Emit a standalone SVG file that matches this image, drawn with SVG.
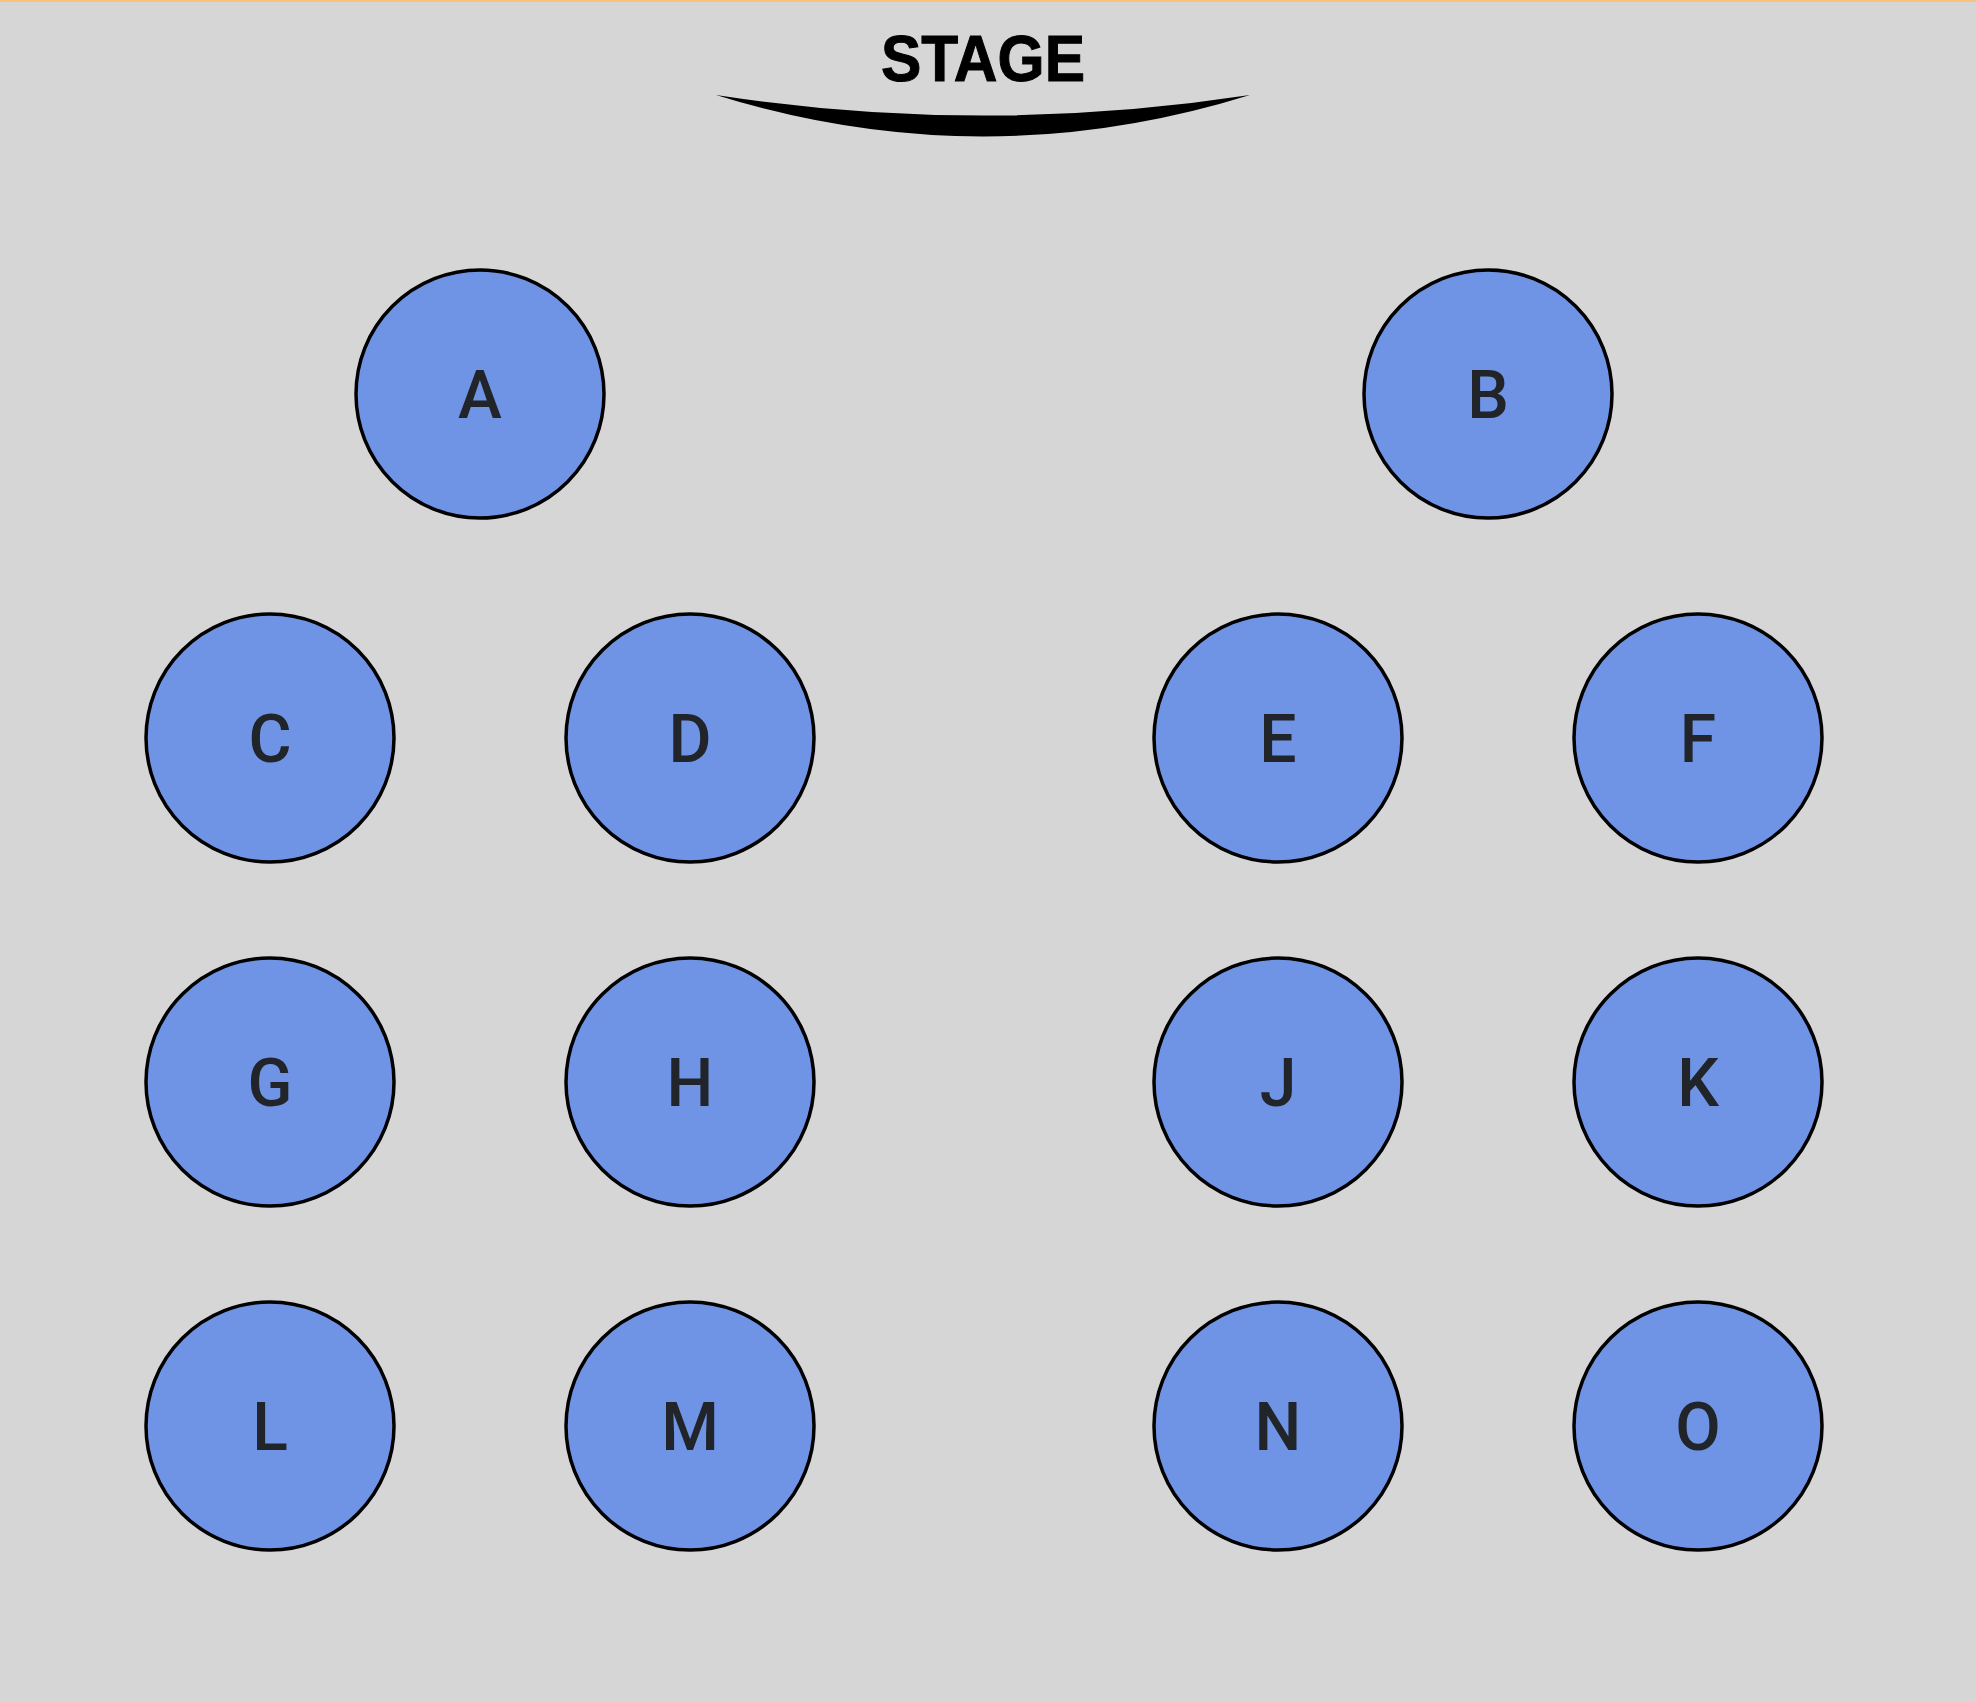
<svg xmlns="http://www.w3.org/2000/svg" width="1976" height="1702" viewBox="0 0 1976 1702">
<style>
.bg{fill:#d6d6d6}
.seat circle{fill:#6f94e6;stroke:#000;stroke-width:3.5}
.seat text{font-family:Roboto,"Liberation Sans",sans-serif;font-weight:500;font-size:66px;fill:#212428;text-anchor:middle}
.stage-label{font-family:"Liberation Sans",Arial,sans-serif;font-weight:bold;font-size:64px;fill:#000;text-anchor:middle;stroke:#000;stroke-width:1}
</style>
<rect class="bg" x="0" y="0" width="1976" height="1702"/>
<rect x="0" y="0" width="1976" height="2" fill="#f7c47a"/>
<g id="stage">
<text class="stage-label" x="983" y="81" textLength="204" lengthAdjust="spacingAndGlyphs">STAGE</text>
<path d="M716,95 Q983,178 1250,95 Q983,136 716,95 Z" fill="#000"/>
</g>
<g id="connectors"></g>
<g id="node-A" class="seat"><circle cx="480" cy="394" r="124"/><text x="480" y="418">A</text></g>
<g id="node-B" class="seat"><circle cx="1488" cy="394" r="124"/><text x="1488" y="418">B</text></g>
<g id="node-C" class="seat"><circle cx="270" cy="738" r="124"/><text x="270" y="762">C</text></g>
<g id="node-D" class="seat"><circle cx="690" cy="738" r="124"/><text x="690" y="762">D</text></g>
<g id="node-E" class="seat"><circle cx="1278" cy="738" r="124"/><text x="1278" y="762">E</text></g>
<g id="node-F" class="seat"><circle cx="1698" cy="738" r="124"/><text x="1698" y="762">F</text></g>
<g id="node-G" class="seat"><circle cx="270" cy="1082" r="124"/><text x="270" y="1106">G</text></g>
<g id="node-H" class="seat"><circle cx="690" cy="1082" r="124"/><text x="690" y="1106">H</text></g>
<g id="node-J" class="seat"><circle cx="1278" cy="1082" r="124"/><text x="1278" y="1106">J</text></g>
<g id="node-K" class="seat"><circle cx="1698" cy="1082" r="124"/><text x="1698" y="1106">K</text></g>
<g id="node-L" class="seat"><circle cx="270" cy="1426" r="124"/><text x="270" y="1450">L</text></g>
<g id="node-M" class="seat"><circle cx="690" cy="1426" r="124"/><text x="690" y="1450">M</text></g>
<g id="node-N" class="seat"><circle cx="1278" cy="1426" r="124"/><text x="1278" y="1450">N</text></g>
<g id="node-O" class="seat"><circle cx="1698" cy="1426" r="124"/><text x="1698" y="1450">O</text></g>
</svg>
